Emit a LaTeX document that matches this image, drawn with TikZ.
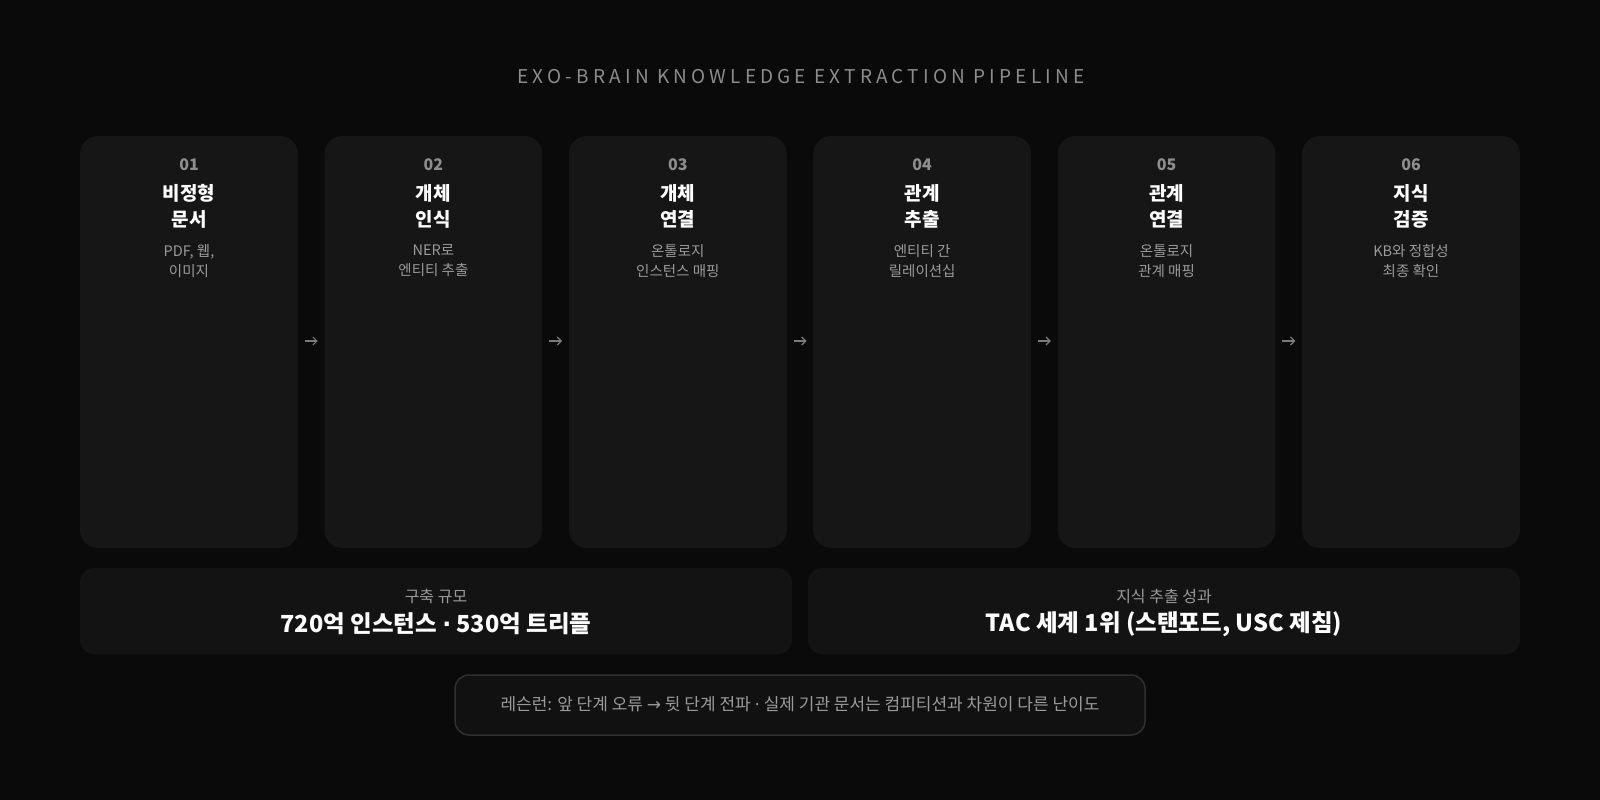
\documentclass[tikz,border=0pt]{standalone}
\usepackage{fontspec}
\setmainfont{Noto Sans CJK KR}
\newfontfamily\titlefont[LetterSpace=22]{Noto Sans CJK KR}
\newfontfamily\symfont{DejaVu Sans}
\newcommand{\mdot}{{\symfont·}}
\newcommand{\rarr}{{\symfont→}}
\usetikzlibrary{arrows.meta}
\definecolor{bgc}{HTML}{0A0A0A}
\definecolor{boxc}{HTML}{161616}
\definecolor{sumc}{HTML}{131313}
\definecolor{lessc}{HTML}{111111}
\definecolor{lessb}{HTML}{2F2F2F}
\definecolor{numc}{HTML}{8E8E8E}
\definecolor{descc}{HTML}{9A9A9A}
\definecolor{titc}{HTML}{8C8C8C}
\definecolor{arrc}{HTML}{7A7A7A}
\tikzset{
  stagebox/.style={fill=boxc, rounded corners=18pt, draw=none, minimum width=218pt, minimum height=412pt, inner sep=0pt},
  sumbox/.style={fill=sumc, rounded corners=14pt, draw=none},
  numtxt/.style={text=numc, font=\fontsize{16}{18}\selectfont\bfseries, anchor=center, inner sep=0pt},
  headtxt/.style={text=white, font=\fontsize{19}{26}\selectfont\bfseries, align=center, anchor=north, inner sep=0pt},
  desctxt/.style={text=descc, font=\fontsize{14.5}{20}\selectfont, align=center, anchor=north, inner sep=0pt},
  steparrow/.style={draw=arrc, line width=1.2pt, -{Straight Barb[length=4pt,width=8pt,line width=1.2pt]}},
  sumlabel/.style={text=descc, font=\fontsize{16}{18}\selectfont, inner sep=0pt},
  sumval/.style={text=white, font=\fontsize{23.5}{26}\selectfont\bfseries, inner sep=0pt},
}
\begin{document}
\begin{tikzpicture}[x=1pt,y=-1pt]
\fill[bgc] (0,0) rectangle (1600,800);
\useasboundingbox (0,0) rectangle (1600,800);
\node[text=titc, font=\titlefont\fontsize{19}{22}\selectfont, inner sep=0pt] (title) at (801,77) {EXO-BRAIN KNOWLEDGE EXTRACTION PIPELINE};
% stage boxes
\foreach \i/\n/\ha/\hb/\da/\db in {
  1/01/비정형/문서/{PDF, 웹,}/이미지,
  2/02/개체/인식/NER로/엔티티 추출,
  3/03/개체/연결/온톨로지/인스턴스 매핑,
  4/04/관계/추출/엔티티 간/릴레이션십,
  5/05/관계/연결/온톨로지/관계 매핑,
  6/06/지식/검증/KB와 정합성/최종 확인}{
  \pgfmathsetmacro{\xc}{80+(\i-1)*244.4+109}
  \node[stagebox] (b\i) at (\xc,342) {};
  \node[numtxt] (n\i) at (\xc,165) {\n};
  \node[headtxt] (h\i) at (\xc,184) {\ha\\\hb};
  \node[desctxt] (d\i) at (\xc,244) {\da\\\db};
}
\foreach \i [evaluate=\i as \j using int(\i+1)] in {1,...,5}{
  \draw[steparrow] ([xshift=6.5pt,yshift=1pt]b\i.east) -- ([xshift=-6.5pt,yshift=1pt]b\j.west);
}
% summary boxes
\path[sumbox] (80,568) rectangle (792,654);
\path[sumbox] (808,568) rectangle (1520,654);
\node[sumlabel] (l1) at (436,596) {구축 규모};
\node[sumval] (v1) at (436,624) {720억 인스턴스 \mdot{} 530억 트리플};
\node[sumlabel] (l2) at (1164,596) {지식 추출 성과};
\node[sumval] (v2) at (1164,624) {TAC 세계 1위 (스탠포드, USC 제침)};
% lesson
\draw[fill=lessc, draw=lessb, line width=1.5pt, rounded corners=14pt] (455,675) rectangle (1145,735);
\node[text=descc, font=\fontsize{17}{20}\selectfont, inner sep=0pt] (lesson) at (800,704) {레슨런: 앞 단계 오류 \rarr{} 뒷 단계 전파 \mdot{} 실제 기관 문서는 컴피티션과 차원이 다른 난이도};
\end{tikzpicture}
\end{document}
